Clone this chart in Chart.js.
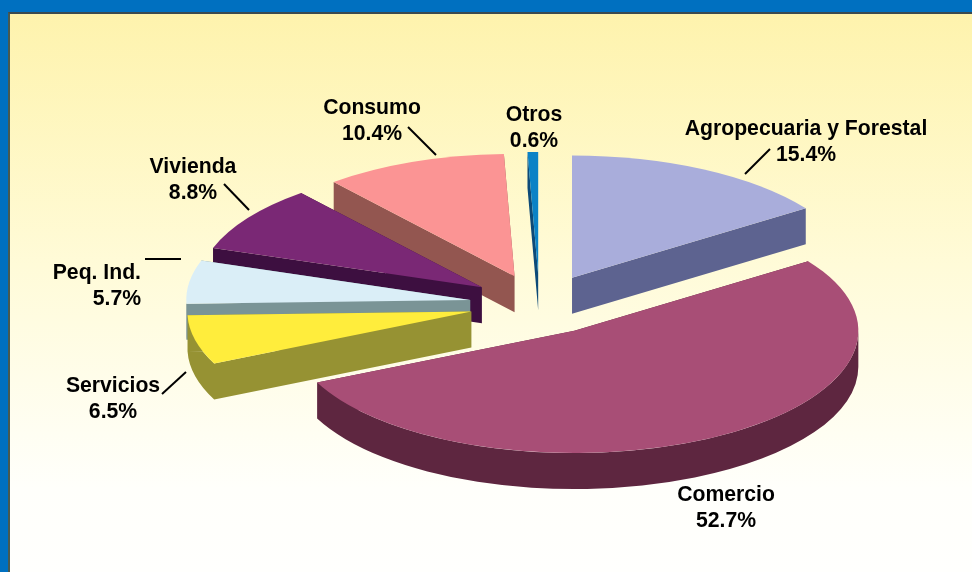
<!DOCTYPE html>
<html>
<head>
<meta charset="utf-8">
<title>Cartera por sector</title>
<script src="https://cdn.jsdelivr.net/npm/chart.js@4"></script>
<style>
  html, body { margin: 0; padding: 0; width: 972px; height: 572px; overflow: hidden; background: #0070c0; }
  #panel {
    position: absolute; left: 8px; top: 12px; width: 964px; height: 560px; box-sizing: border-box;
    border-left: 2px solid #4a5a50; border-top: 2px solid #3a4a50;
    background: linear-gradient(to bottom, #fef3ad 0%, #fffbd8 45%, #fffffb 85%, #fffffd 100%);
  }
  #chart { position: absolute; left: 0; top: 0; }
</style>
</head>
<body>
<div id="panel"></div>
<canvas id="chart" width="972" height="572"></canvas>
<script>
const categories = ['Agropecuaria y Forestal', 'Comercio', 'Servicios', 'Peq. Ind.', 'Vivienda', 'Consumo', 'Otros'];
const values = [15.4, 52.7, 6.5, 5.7, 8.8, 10.4, 0.6];

const topColors = ['#a9addb', '#a84e76', '#ffed3c', '#daeef7', '#7a2875', '#fb9494', '#0b82c6'];
const sideColors = ['#5d6390', '#5e2640', '#969233', '#7a9496', '#3d0f40', '#935650', '#0d4a78'];

// look of the tilted pie
const tilt = 0.431;
const depth = 36;
const explode = 70;

// x, y of the text centre (or right edge with align right) and the leader line
const labelSpots = [
  { x: 806, y: 128, line: [770, 149, 745, 174] },
  { x: 726, y: 494 },
  { x: 113, y: 385, line: [162, 394, 186, 372] },
  { x: 141, y: 272, align: 'right', line: [145, 259, 181, 259] },
  { x: 193, y: 166, line: [224, 184, 249, 210] },
  { x: 372, y: 107, line: [408, 127, 436, 155] },
  { x: 534, y: 114 }
];

function sliceCentre(arc) {
  const mid = (arc.startAngle + arc.endAngle) / 2;
  return { x: arc.x + Math.cos(mid) * explode, y: arc.y + Math.sin(mid) * explode * tilt };
}

function rimPoint(arc, c, angle) {
  return { x: c.x + Math.cos(angle) * arc.outerRadius, y: c.y + Math.sin(angle) * arc.outerRadius * tilt };
}

// one cut face pushed down by depth, always wound the same way so the path has no holes
function addCutFace(ctx, c, p) {
  const pts = [c, p, { x: p.x, y: p.y + depth }, { x: c.x, y: c.y + depth }];
  const area = (p.x - c.x) * depth;
  if (area > 0) pts.reverse();
  ctx.moveTo(pts[0].x, pts[0].y);
  pts.slice(1).forEach(pt => ctx.lineTo(pt.x, pt.y));
  ctx.closePath();
}

function drawWalls(ctx, arc, color) {
  const c = sliceCentre(arc);
  const r = arc.outerRadius;
  ctx.beginPath();
  addCutFace(ctx, c, rimPoint(arc, c, arc.startAngle));
  addCutFace(ctx, c, rimPoint(arc, c, arc.endAngle));
  // only the front part of the rim can be seen
  const from = Math.max(arc.startAngle, 0);
  const to = Math.min(arc.endAngle, Math.PI);
  if (from < to) {
    ctx.moveTo(c.x + Math.cos(from) * r, c.y + Math.sin(from) * r * tilt);
    ctx.ellipse(c.x, c.y, r, r * tilt, 0, from, to);
    ctx.ellipse(c.x, c.y + depth, r, r * tilt, 0, to, from, true);
    ctx.closePath();
  }
  ctx.fillStyle = color;
  ctx.fill();
}

function drawTop(ctx, arc, color) {
  const c = sliceCentre(arc);
  const r = arc.outerRadius;
  ctx.beginPath();
  ctx.moveTo(c.x, c.y);
  ctx.ellipse(c.x, c.y, r, r * tilt, 0, arc.startAngle, arc.endAngle);
  ctx.closePath();
  ctx.fillStyle = color;
  ctx.fill();
}

const tiltedPie = {
  id: 'tiltedPie',
  beforeDatasetDraw(chart, args) {
    const ctx = chart.ctx;
    const arcs = args.meta.data.map((arc, i) => ({ arc, i }));
    // back slices first
    arcs.sort((a, b) => Math.sin((a.arc.startAngle + a.arc.endAngle) / 2) - Math.sin((b.arc.startAngle + b.arc.endAngle) / 2));
    arcs.forEach(({ arc, i }) => {
      drawWalls(ctx, arc, sideColors[i]);
      drawTop(ctx, arc, topColors[i]);
    });
    return false;
  },
  afterDraw(chart) {
    const ctx = chart.ctx;
    ctx.save();
    ctx.fillStyle = '#000';
    ctx.strokeStyle = '#000';
    ctx.lineWidth = 2;
    ctx.font = 'bold 21.2px "Liberation Sans", Arial, sans-serif';
    ctx.textBaseline = 'middle';
    categories.forEach((name, i) => {
      const spot = labelSpots[i];
      ctx.textAlign = spot.align || 'center';
      ctx.fillText(name, spot.x, spot.y + 1);
      ctx.fillText(values[i].toFixed(1) + '%', spot.x, spot.y + 27);
      if (spot.line) {
        ctx.beginPath();
        ctx.moveTo(spot.line[0], spot.line[1]);
        ctx.lineTo(spot.line[2], spot.line[3]);
        ctx.stroke();
      }
    });
    ctx.restore();
  }
};

new Chart(document.getElementById('chart').getContext('2d'), {
  type: 'pie',
  data: {
    labels: categories,
    datasets: [{ data: values, backgroundColor: topColors, borderWidth: 0 }]
  },
  options: {
    responsive: false,
    animation: false,
    radius: 284,
    layout: { padding: { left: 107, top: 37 } },
    plugins: { legend: { display: false }, tooltip: { enabled: false } }
  },
  plugins: [tiltedPie]
});
</script>
</body>
</html>
